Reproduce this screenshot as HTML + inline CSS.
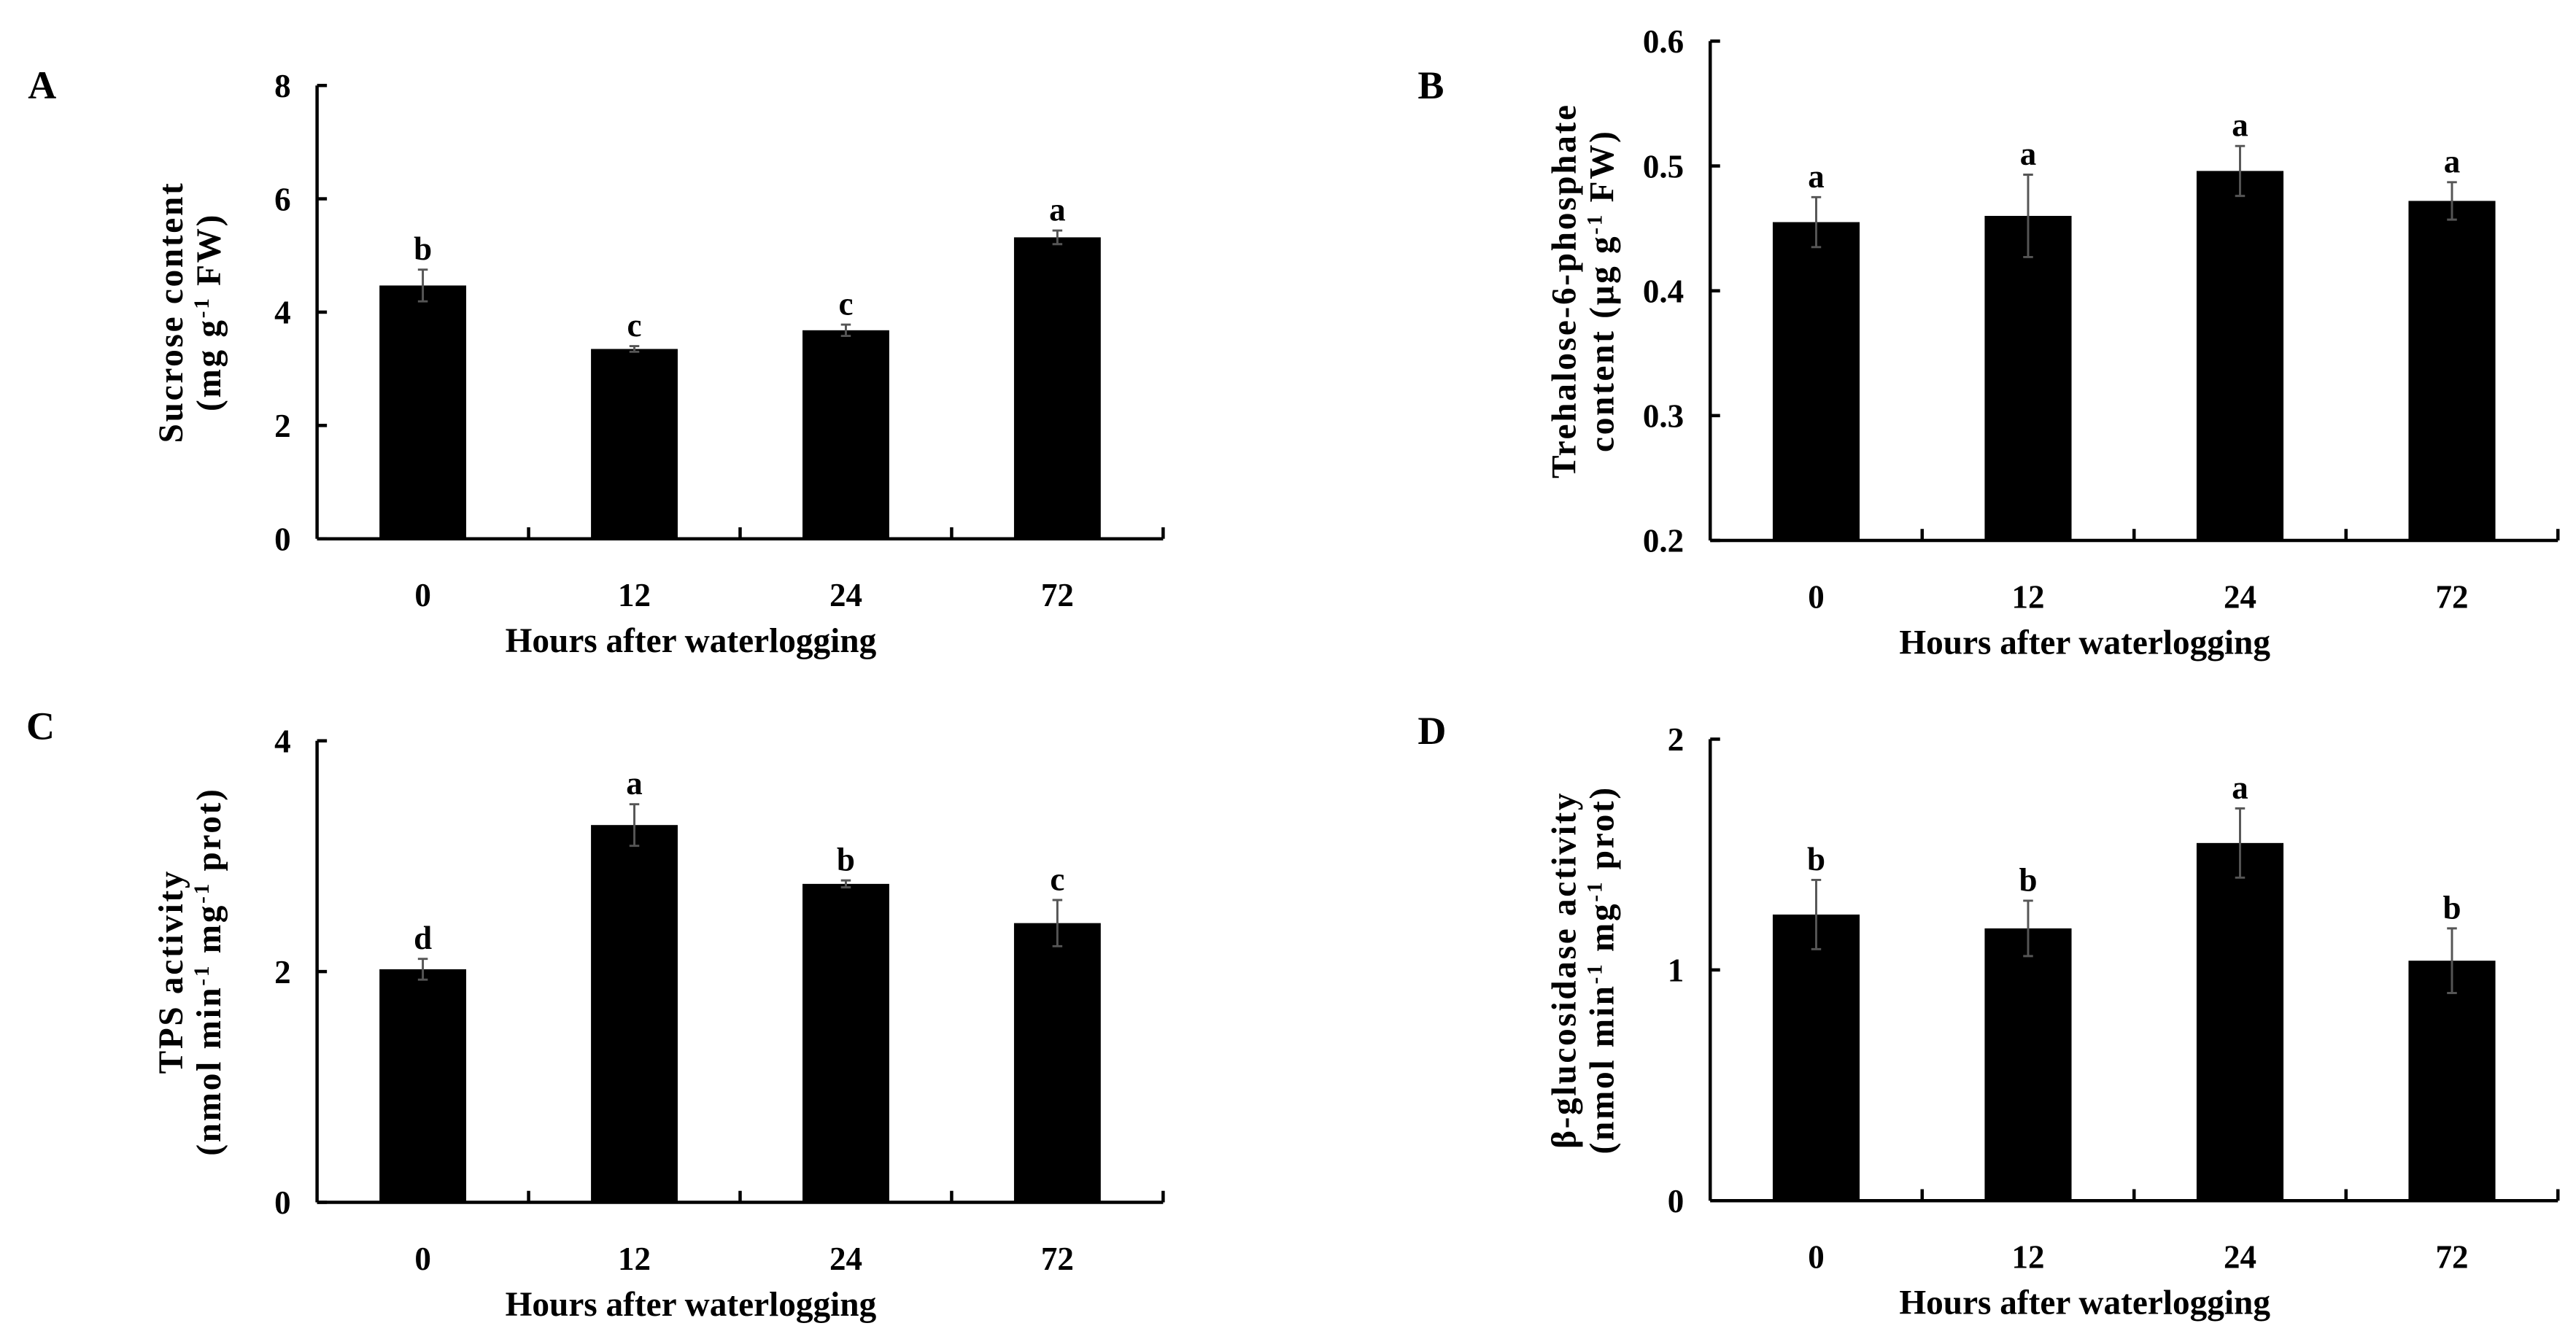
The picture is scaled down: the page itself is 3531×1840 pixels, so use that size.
<!DOCTYPE html>
<html><head><meta charset="utf-8"><style>
html,body{margin:0;padding:0;background:#fff;}
svg{display:block;}
text{font-family:"Liberation Serif",serif;font-weight:bold;fill:#000;}
</style></head><body>
<svg id="fig" width="3531" height="1840" viewBox="0 0 1568 817" xmlns="http://www.w3.org/2000/svg"></svg>
<script>
const categories = ["0","12","24","72"];
const valsA = [4.47, 3.35, 3.68, 5.32];
const errA = [0.28, 0.05, 0.10, 0.12];
const letA = ["b","c","c","a"];
const ticksA = [0,2,4,6,8];
const valsB = [0.455, 0.460, 0.496, 0.472];
const errB = [0.020, 0.033, 0.020, 0.015];
const letB = ["a","a","a","a"];
const ticksB = [0.2,0.3,0.4,0.5,0.6];
const valsC = [2.02, 3.27, 2.76, 2.42];
const errC = [0.09, 0.18, 0.03, 0.20];
const letC = ["d","a","b","c"];
const ticksC = [0,2,4];
const valsD = [1.24, 1.18, 1.55, 1.04];
const errD = [0.15, 0.12, 0.15, 0.14];
const letD = ["b","b","a","b"];
const ticksD = [0,1,2];

const NS = "http://www.w3.org/2000/svg";
const svg = document.getElementById("fig");
function mk(tag, attrs, parent){
  const e = document.createElementNS(NS, tag);
  for (const k in attrs) e.setAttribute(k, attrs[k]);
  (parent||svg).appendChild(e);
  return e;
}
function txt(str, x, y, size, parent, anchor){
  const t = mk("text", {x:x, y:y, "font-size":size, "text-anchor":anchor||"middle"}, parent);
  t.textContent = str;
  return t;
}
function panel(id, letter, lx, ly, x0, x1, yTop, yBot, ticks, vals, errs, lets, fmt, titleLines){
  const g = mk("g", {});
  
  
  const lab = txt(letter, lx, ly, 24, g, "start");
  
  
  const tmin = ticks[0], tmax = ticks[ticks.length-1];
  const ys = v => yBot - (v - tmin) / (tmax - tmin) * (yBot - yTop);
  const step = (x1 - x0) / categories.length;
  const xc = i => x0 + step * (i + 0.5);
  const bw = step * 0.41;
  const ya = mk("line", {x1:x0, y1:yTop, x2:x0, y2:yBot, stroke:"#000", "stroke-width":2}, g);
  
  
  const xa = mk("line", {x1:x0, y1:yBot, x2:x1, y2:yBot, stroke:"#000", "stroke-width":2}, g);
  
  
  ticks.forEach(t => {
    const y = ys(t);
    mk("line", {x1:x0, y1:y, x2:x0+6, y2:y, stroke:"#000", "stroke-width":2}, g);
    const tl = txt(fmt(t), x0 - 16, y + 7, 20, g, "end");
    
    
  });
  for (let i = 1; i <= categories.length; i++) {
    const x = x0 + step * i;
    mk("line", {x1:x, y1:yBot, x2:x, y2:yBot-7, stroke:"#000", "stroke-width":2}, g);
  }
  categories.forEach((c, i) => {
    const b = mk("rect", {x:xc(i)-bw/2, y:ys(vals[i]), width:bw, height:yBot-ys(vals[i]), fill:"#000"}, g);
    
    
    const yh = ys(vals[i] + errs[i]), yl = ys(vals[i] - errs[i]);
    const eb = mk("path", {d:`M${xc(i)},${yh}V${yl}M${xc(i)-3},${yh}H${xc(i)+3}M${xc(i)-3},${yl}H${xc(i)+3}`, stroke:"#555", "stroke-width":1.3, fill:"none"}, g);
    
    
    const l = txt(lets[i], xc(i), yh - 6, 20, g);
    
    
    const xl = txt(c, xc(i), yBot + 41, 20, g);
    
    
  });
  const xt = txt("Hours after waterlogging", (x0 + x1) / 2 - 30, yBot + 69, 21, g);
  
  
  const cy = (yTop + yBot) / 2;
  titleLines.forEach((ln, k) => {
    const tx = x0 - 82 + k * 23;
    const t = mk("text", {x:0, y:0, "font-size":21, "letter-spacing":1.2, "text-anchor":"middle", transform:`translate(${tx},${cy}) rotate(-90)`}, g);
    t.innerHTML = ln;
    
    
  });
}
const f0 = t => String(t);
const f1 = t => t.toFixed(1);
panel("a", "A", 17, 60, 193, 708, 52, 328, ticksA, valsA, errA, letA, f0,
  ["Sucrose content", "(mg g<tspan baseline-shift='super' font-size='13'>-1</tspan> FW)"]);
panel("b", "B", 863, 60, 1041, 1557, 25, 329, ticksB, valsB, errB, letB, f1,
  ["Trehalose-6-phosphate", "content (μg g<tspan baseline-shift='super' font-size='13'>-1</tspan> FW)"]);
panel("c", "C", 16, 450, 193, 708, 451, 732, ticksC, valsC, errC, letC, f0,
  ["TPS activity", "(nmol min<tspan baseline-shift='super' font-size='13'>-1</tspan> mg<tspan baseline-shift='super' font-size='13'>-1</tspan> prot)"]);
panel("d", "D", 863, 453, 1041, 1557, 450, 731, ticksD, valsD, errD, letD, f0,
  ["β-glucosidase activity", "(nmol min<tspan baseline-shift='super' font-size='13'>-1</tspan> mg<tspan baseline-shift='super' font-size='13'>-1</tspan> prot)"]);
</script>
</body></html>
